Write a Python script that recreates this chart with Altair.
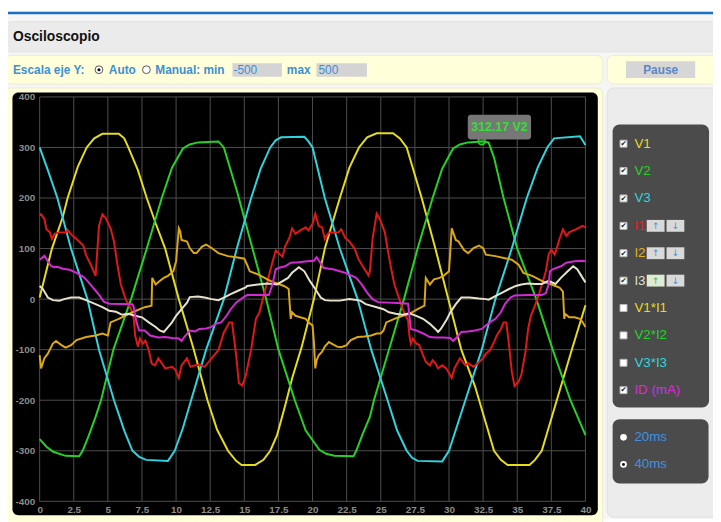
import altair as alt
import pandas as pd

# ---------------- data ----------------
X_TICKS = [0, 2.5, 5, 7.5, 10, 12.5, 15, 17.5, 20, 22.5, 25, 27.5, 30, 32.5, 35, 37.5, 40]
Y_TICKS = [-400, -300, -200, -100, 0, 100, 200, 300, 400]

V1_T = [0, 0.9, 1.7, 2.05, 2.8, 3.45, 4.0, 4.6, 5.8, 6.2, 6.5, 7.2, 7.85, 8.5, 9.2, 10.2, 11.3, 12.3, 13.0, 13.8, 14.4, 14.8, 15.8, 16.4, 16.9, 17.4, 18.0, 18.5, 19.2, 20.1, 20.9, 22.0, 22.7, 23.4, 24.0, 24.7, 25.9, 26.4, 26.9, 28.0, 29.0, 30.0, 30.9, 31.9, 32.7, 33.3, 33.8, 34.3, 35.9, 36.3, 36.8, 37.9, 39.0, 40]
V1_V = [3, 100, 163, 200, 262, 300, 318, 327, 327, 318, 300, 255, 200, 150, 100, 0, -100, -200, -258, -300, -320, -328, -328, -318, -300, -269, -210, -157, -95, 0, 100, 200, 260, 300, 320, 328, 328, 318, 300, 200, 100, -5, -100, -172, -245, -300, -318, -328, -328, -318, -300, -200, -100, -12]

V2_T = [0, 0.5, 1.0, 1.9, 2.9, 3.15, 3.6, 4.1, 4.5, 5.4, 6.7, 7.85, 8.95, 9.7, 10.5, 11.0, 11.6, 13.1, 13.5, 14.0, 14.5, 15.6, 16.6, 17.5, 18.7, 19.5, 20.5, 21.0, 21.6, 23.0, 23.2, 23.7, 24.2, 24.5, 25.6, 26.7, 27.7, 28.8, 29.5, 30.3, 30.8, 31.4, 32.4, 32.9, 33.3, 34.0, 35.0, 36.4, 37.6, 38.9, 40]
V2_V = [-277, -292, -302, -310, -311, -300, -270, -233, -200, -100, 0, 100, 200, 260, 298, 306, 310, 312, 300, 255, 210, 100, 0, -100, -200, -260, -298, -306, -310, -311, -300, -265, -233, -200, -100, 0, 100, 200, 258, 298, 306, 310, 312, 310, 280, 200, 100, 0, -100, -200, -269]

V3_T = [0, 0.6, 1.3, 2.3, 3.5, 4.35, 5.45, 6.2, 6.8, 7.3, 7.8, 9.4, 9.9, 10.5, 11.1, 12.2, 13.5, 14.45, 15.5, 16.2, 16.9, 17.3, 17.7, 19.4, 19.7, 20.0, 20.9, 22.0, 23.3, 24.3, 25.5, 26.2, 26.9, 27.3, 27.7, 29.5, 30.0, 31.2, 32.4, 33.4, 34.6, 35.7, 36.5, 37.2, 37.7, 39.6, 40]
V3_V = [300, 255, 200, 100, 0, -100, -200, -260, -300, -312, -318, -320, -300, -255, -200, -100, 0, 100, 200, 258, 300, 314, 320, 321, 312, 300, 200, 100, 0, -100, -200, -260, -300, -314, -320, -321, -300, -200, -100, 0, 100, 200, 260, 300, 318, 322, 305]

I1_T = [0, 0.1, 0.35, 0.5, 0.75, 0.9, 1.1, 1.4, 1.93, 2.05, 2.3, 2.7, 3.2, 3.4, 3.75, 4.1, 4.35, 4.6, 4.85, 5.2, 5.45, 5.7, 5.95, 6.3, 6.7, 6.9, 7.0, 7.2, 7.35, 7.55, 7.75, 8.0, 8.2, 8.45, 8.7, 8.95, 9.2, 9.7, 9.95, 10.2, 10.4, 10.8, 11.05, 11.4, 11.75, 12.1, 12.6, 13.1, 13.5, 13.9, 14.1, 14.4, 14.6, 14.85, 15.1, 15.5, 15.85, 16.1, 16.45, 16.7, 17.06, 17.3, 17.55, 17.8, 18.0, 18.3, 18.5, 18.75, 19.1, 19.5, 19.7, 20.0, 20.2, 20.45, 20.7, 20.9, 21.2, 21.5, 21.9, 22.1, 22.4, 22.7, 23.1, 23.35, 23.7, 24.1, 24.2, 24.4, 24.7, 24.9, 25.3, 25.5, 25.8, 26.0, 26.4, 26.7, 27.0, 27.1, 27.2, 27.35, 27.6, 27.8, 28.1, 28.3, 28.6, 28.8, 29.0, 29.2, 29.5, 29.8, 30.2, 30.4, 30.8, 31.2, 31.4, 31.8, 32.1, 32.5, 32.7, 33.0, 33.3, 33.5, 33.8, 34.0, 34.2, 34.4, 34.6, 34.8, 35.1, 35.3, 35.6, 35.8, 36.0, 36.3, 36.6, 37.1, 37.3, 37.5, 37.75, 37.9, 38.1, 38.35, 38.6, 38.8, 39.3, 39.8, 40]
I1_V = [166, 168, 158, 138, 132, 119, 129, 132, 132, 137, 128, 119, 106, 87, 68, 46, 145, 168, 160, 140, 114, 68, 29, 0, -20, -39, -72, -94, -78, -88, -82, -101, -127, -131, -117, -127, -137, -134, -140, -156, -131, -117, -134, -131, -130, -134, -117, -101, -66, -46, -46, -111, -166, -171, -152, -100, -39, -27, 10, 36, 73, 96, 90, 84, 105, 121, 140, 129, 136, 142, 136, 149, 169, 145, 142, 119, 132, 132, 132, 138, 121, 114, 99, 80, 64, 47, 55, 119, 169, 160, 132, 99, 55, 29, -3, -26, -42, -72, -88, -78, -88, -90, -111, -124, -131, -121, -127, -137, -131, -137, -156, -137, -117, -131, -127, -134, -127, -117, -108, -101, -85, -72, -59, -46, -46, -91, -143, -172, -163, -150, -105, -59, -33, -13, 10, 55, 88, 98, 88, 101, 119, 138, 125, 132, 138, 145, 142]

I2_T = [0, 0.1, 0.35, 0.6, 0.97, 1.2, 1.6, 1.9, 2.3, 2.7, 3.4, 4.1, 4.6, 5.0, 5.2, 5.8, 6.8, 7.7, 8.2, 8.25, 8.5, 8.8, 9.1, 9.4, 9.8, 10.0, 10.2, 10.3, 10.4, 10.8, 11.0, 11.3, 11.5, 11.9, 12.2, 12.6, 13.1, 13.8, 14.4, 15.0, 15.2, 15.4, 16.0, 16.9, 17.9, 18.1, 18.25, 18.4, 18.5, 18.75, 19.1, 19.5, 19.7, 20.0, 20.1, 20.2, 20.3, 20.45, 20.7, 20.9, 21.2, 21.4, 21.8, 22.1, 22.5, 22.8, 23.3, 23.8, 24.3, 24.7, 25.0, 25.2, 25.4, 26.0, 26.6, 27.1, 27.7, 28.2, 28.3, 28.6, 28.9, 29.3, 29.6, 30.0, 30.2, 30.5, 30.7, 31.1, 31.4, 31.8, 32.2, 32.5, 32.7, 33.4, 34.1, 34.6, 35.1, 35.45, 36.1, 36.8, 37.5, 38.1, 38.35, 38.45, 38.5, 38.8, 39.2, 39.6, 39.8, 40]
I2_V = [-111, -137, -117, -108, -88, -83, -91, -96, -91, -81, -75, -72, -68, -72, -46, -39, -26, -16, -13, 42, 29, 36, 42, 46, 55, 75, 140, 134, 117, 114, 101, 91, 91, 104, 108, 101, 91, 85, 83, 80, 68, 55, 49, 36, 26, 23, 20, -39, -26, -33, -36, -39, -46, -52, -85, -137, -121, -111, -104, -94, -85, -88, -94, -95, -91, -81, -75, -74, -72, -68, -68, -62, -46, -39, -33, -29, -20, -13, 42, 29, 39, 42, 46, 55, 140, 117, 114, 97, 91, 101, 106, 101, 88, 85, 81, 78, 68, 52, 46, 36, 29, 23, 15, -39, -29, -36, -36, -39, -46, -55]

I3_T = [0, 0.24, 0.6, 0.97, 1.45, 1.8, 2.3, 2.9, 3.4, 4.1, 4.6, 5.1, 5.6, 6.05, 6.5, 7.0, 7.5, 8.0, 8.5, 8.8, 9.1, 9.3, 9.7, 10.0, 10.4, 10.8, 11.0, 11.6, 12.1, 12.6, 13.1, 13.5, 14.0, 14.5, 15.1, 15.2, 16.0, 16.7, 17.4, 18.2, 18.5, 19.0, 19.4, 19.8, 20.2, 20.6, 20.9, 21.3, 22.0, 22.7, 23.5, 23.9, 24.7, 25.2, 25.6, 26.1, 26.6, 27.1, 27.6, 28.1, 28.6, 29.0, 29.2, 29.4, 29.8, 30.1, 30.5, 30.9, 31.5, 32.2, 32.7, 32.9, 33.4, 33.9, 34.4, 34.9, 35.3, 35.8, 36.3, 36.8, 37.3, 37.8, 38.2, 38.7, 39.1, 39.4, 39.7, 40]
I3_V = [26, 20, 3, -2, -3, 0, 3, 3, -2, -10, -16, -23, -25, -31, -29, -33, -36, -46, -55, -62, -65, -59, -46, -33, -20, -7, 4, 5, 3, 0, -2, 3, 10, 16, 23, 26, 29, 31, 29, 42, 52, 63, 55, 36, 20, 3, -2, -3, -3, 0, -3, -10, -16, -20, -26, -29, -31, -28, -33, -39, -49, -59, -65, -59, -42, -26, -10, 3, 3, 1, 0, -1, 6, 13, 20, 26, 29, 31, 30, 30, 36, 30, 42, 55, 65, 59, 46, 33]

ID_T = [0, 0.35, 0.6, 0.85, 1.1, 1.3, 1.7, 2.2, 2.7, 3.2, 3.5, 3.9, 4.4, 4.7, 5.1, 6.8, 6.9, 7.1, 7.3, 7.7, 8.1, 8.7, 9.2, 9.7, 10.2, 10.4, 10.6, 11.0, 11.4, 11.7, 12.2, 12.6, 12.9, 13.3, 13.7, 14.0, 14.4, 14.9, 15.2, 16.8, 17.06, 17.3, 17.55, 18.0, 18.4, 19.0, 19.6, 20.1, 20.3, 20.5, 20.8, 21.2, 21.5, 22.0, 22.4, 22.9, 23.2, 23.6, 24.0, 24.4, 24.8, 26.6, 27.0, 27.2, 27.6, 28.1, 28.6, 29.0, 29.6, 30.1, 30.3, 30.6, 30.9, 31.4, 31.9, 32.4, 32.7, 33.0, 33.4, 33.8, 34.1, 34.5, 34.8, 35.8, 36.8, 37.1, 37.3, 37.4, 37.6, 37.9, 38.2, 38.6, 39.2, 39.7, 40]
ID_V = [78, 86, 75, 65, 63, 64, 60, 58, 52, 44, 36, 23, 7, -5, -9, -10, -16, -46, -62, -62, -72, -76, -75, -77, -78, -83, -75, -62, -64, -59, -58, -55, -49, -46, -33, -20, -7, 3, 8, 8, 29, 59, 62, 65, 72, 73, 75, 76, 83, 75, 62, 60, 59, 55, 52, 46, 42, 29, 13, 0, -6, -8, -9, -59, -62, -68, -75, -76, -76, -77, -83, -75, -65, -64, -62, -59, -52, -46, -39, -26, -10, 3, 7, 8, 8, 12, 29, 55, 59, 62, 65, 72, 75, 76, 75]

SERIES = ["V1", "V2", "V3", "I1", "I2", "I3", "ID (mA)"]
SERIES_COLORS = ["#e4dc1c", "#26d226", "#30d4de", "#e01818", "#dca812", "#e6e2cc", "#d22ad2"]
SERIES_DATA = [(V1_T, V1_V), (V2_T, V2_V), (V3_T, V3_V), (I1_T, I1_V), (I2_T, I2_V), (I3_T, I3_V), (ID_T, ID_V)]

LEGEND_ITEMS = ["V1", "V2", "V3", "I1", "I2", "I3", "V1*I1", "V2*I2", "V3*I3", "ID (mA)"]
LEGEND_COLORS = ["#e4dc1c", "#26d226", "#30d4de", "#ee2020", "#e0b020", "#e0ddcc", "#e4dc1c", "#26d226", "#30d4de", "#dd2add"]
LEGEND_CHECKED = [True, True, True, True, True, True, False, False, False, True]
TIME_OPTIONS = ["20ms", "40ms"]
CURSOR_T, CURSOR_V, CURSOR_LABEL = 32.4, 312.17, "312.17 V2"

rows = []
for name, (ts, vs) in zip(SERIES, SERIES_DATA):
    for t, v in zip(ts, vs):
        rows.append({"serie": name, "t": t, "v": v})
df = pd.DataFrame(rows)

# ---------------- layout ----------------
W, H = 552, 409
PX0, PY0 = 40, 95          # page position of plot origin
SX, SY = 8, 8              # page position of svg origin
TOTAL_W, TOTAL_H = 713, 514
FONT = "Liberation Sans"

ONE = alt.Data(values=[{"a": 1}])
XS = alt.Scale(domain=[0, 40], nice=False, zero=False)
YS = alt.Scale(domain=[-400, 400], nice=False, zero=False)
AX = alt.Axis(values=X_TICKS, grid=False, domain=False, ticks=False, title=None,
              labelColor="#8c8c8c", labelFont=FONT, labelFontSize=10, labelFontWeight="bold",
              labelPadding=3, labelFlush=False, labelOverlap=False,
              labelExpr="'' + datum.value", zindex=1)
AY = alt.Axis(values=Y_TICKS, grid=False, domain=False, ticks=False, title=None,
              labelColor="#8c8c8c", labelFont=FONT, labelFontSize=10, labelFontWeight="bold",
              labelPadding=5, labelFlush=False, labelOverlap=False,
              labelExpr="'' + datum.value", zindex=1)


def box(x1, y1, x2, y2, fill, stroke=None, r=0):
    kw = dict(fill=fill, cornerRadius=r)
    if stroke:
        kw.update(stroke=stroke, strokeWidth=1)
    return alt.Chart(ONE).mark_rect(**kw).encode(
        x=alt.value(x1 - PX0), x2=alt.value(x2 - PX0),
        y=alt.value(y1 - PY0), y2=alt.value(y2 - PY0))


def txt(s, x, y, color, size, weight="normal", align="left", font=FONT):
    return alt.Chart(ONE).mark_text(text=s, align=align, baseline="middle", color=color,
                                    fontSize=size, fontWeight=weight, font=font).encode(
        x=alt.value(x - PX0), y=alt.value(y - PY0))


def dot(x, y, size, fill, stroke=None, sw=1):
    kw = dict(shape="circle", filled=True, fill=fill, size=size, opacity=1)
    if stroke:
        kw.update(stroke=stroke, strokeWidth=sw)
    else:
        kw.update(strokeWidth=0)
    return alt.Chart(ONE).mark_point(**kw).encode(x=alt.value(x - PX0), y=alt.value(y - PY0))


layers = []
# page background + frame
layers.append(box(SX, SY, SX + TOTAL_W, SY + TOTAL_H, "#f6f6f6"))
layers.append(box(SX, 9, SX + TOTAL_W, 11.5, "#1c6fc2"))
# header
layers.append(box(5, 19, 730, 49.5, "#ebebeb", "#e2e2e2", 6))
layers.append(txt("Osciloscopio", 13, 34, "#111111", 14, "bold"))
# control row
layers.append(box(5, 53, 609.5, 82, "#ffffd9", "#ecebd0", 6))
layers.append(box(614, 53, 730, 82, "#ffffd9", "#ecebd0", 6))
layers.append(box(633, 59, 703, 76, "#d6d6d6"))
layers.append(txt("Pause", 668, 67.5, "#5b87c4", 12, "bold", "center"))
BLUE = "#3d8fd6"
layers.append(txt("Escala eje Y:", 13, 68, BLUE, 12, "bold"))
layers.append(dot(100, 67.5, 62, "white", "#555555", 1))
layers.append(dot(100, 67.5, 10, "#111111"))
layers.append(txt("Auto", 110, 68, BLUE, 12, "bold"))
layers.append(dot(148, 67.5, 62, "white", "#555555", 1))
layers.append(txt("Manual: min", 157, 68, BLUE, 12, "bold"))
layers.append(box(235, 61, 285, 74.5, "#d4d4d4"))
layers.append(txt("-500", 236, 68, BLUE, 12))
layers.append(txt("max", 290, 68, BLUE, 12, "bold"))
layers.append(box(320, 61, 371, 74.5, "#d4d4d4"))
layers.append(txt("500", 322, 68, BLUE, 12))
# chart box and side panel
layers.append(box(5, 86, 609.5, 535, "#ffffd9", "#ecebd0", 6))
layers.append(box(614, 86, 730, 520, "#ececec", "#e0e0e0", 6))
layers.append(box(12.5, 90.5, 604.5, 518, "#000000", None, 6))

# grid
layers.append(alt.Chart(pd.DataFrame({"t": X_TICKS})).mark_rule(color="#4e4e4e", strokeWidth=1).encode(
    x=alt.X("t:Q", scale=XS, axis=AX), y=alt.value(0), y2=alt.value(H)))
layers.append(alt.Chart(pd.DataFrame({"v": Y_TICKS})).mark_rule(color="#4e4e4e", strokeWidth=1).encode(
    y=alt.Y("v:Q", scale=YS, axis=AY), x=alt.value(0), x2=alt.value(W)))

# traces
layers.append(alt.Chart(df).mark_line(strokeWidth=2, interpolate="linear").encode(
    x=alt.X("t:Q", scale=XS, axis=AX),
    y=alt.Y("v:Q", scale=YS, axis=AY),
    color=alt.Color("serie:N", scale=alt.Scale(domain=SERIES, range=SERIES_COLORS), legend=None),
    detail="serie:N"))

# cursor marker + tooltip
layers.append(alt.Chart(pd.DataFrame({"t": [CURSOR_T], "v": [CURSOR_V]})).mark_point(
    shape="circle", size=50, filled=True, fill="#26d226", fillOpacity=0.35,
    stroke="#26d226", strokeWidth=1.5).encode(
    x=alt.X("t:Q", scale=XS, axis=AX), y=alt.Y("v:Q", scale=YS, axis=AY)))
layers.append(box(473, 113, 537, 138, "#777777", None, 3))
layers.append(txt(CURSOR_LABEL, 505, 125.5, "#33e033", 12.5, "bold", "center"))

# legend panel
layers.append(box(619.5, 123, 717, 409, "#4b4b4b", None, 7))
ROW0, STEP = 142.3, 27.7
for i, (lab, col, chk) in enumerate(zip(LEGEND_ITEMS, LEGEND_COLORS, LEGEND_CHECKED)):
    yy = ROW0 + STEP * i
    layers.append(box(627, yy - 3.5, 634, yy + 3.5, "#ffffff", "#bbbbbb"))
    if chk:
        layers.append(txt("\u2714", 630.5, yy + 0.3, "#222222", 7.5, "normal", "center", "DejaVu Sans"))
    layers.append(txt(lab, 641.5, yy, col, 13.5))
    if lab in ("I1", "I2", "I3"):
        up_fill = "#dcebd2" if lab == "I3" else "#d9d9d9"
        up_col = "#5aa85a" if lab == "I3" else "#4a8fd0"
        layers.append(box(654, yy - 6, 672, yy + 6, up_fill))
        layers.append(box(674, yy - 6, 692, yy + 6, "#d9d9d9"))
        layers.append(txt("\u2191", 663, yy, up_col, 9, "normal", "center", "DejaVu Sans"))
        layers.append(txt("\u2193", 683, yy, "#4a8fd0", 9, "normal", "center", "DejaVu Sans"))

# time base panel
layers.append(box(619.5, 421, 716.5, 486, "#4b4b4b", None, 7))
TIME_Y = [439.3, 466.7]
for lab, yy in zip(TIME_OPTIONS, TIME_Y):
    layers.append(dot(630.5, yy, 45, "#ffffff"))
    if lab == "40ms":
        layers.append(dot(630.5, yy, 9, "#111111"))
    layers.append(txt(lab, 641.5, yy, "#3b92e2", 13.5))

chart = alt.layer(*layers).properties(
    width=W, height=H,
    autosize=alt.AutoSizeParams(type="none"),
    padding={"left": PX0 - SX, "top": PY0 - SY,
             "right": TOTAL_W - (PX0 - SX) - W, "bottom": TOTAL_H - (PY0 - SY) - H},
    background="white",
).configure_view(stroke=None)

chart.save("out.html", embed_options={"renderer": "svg", "actions": False})
